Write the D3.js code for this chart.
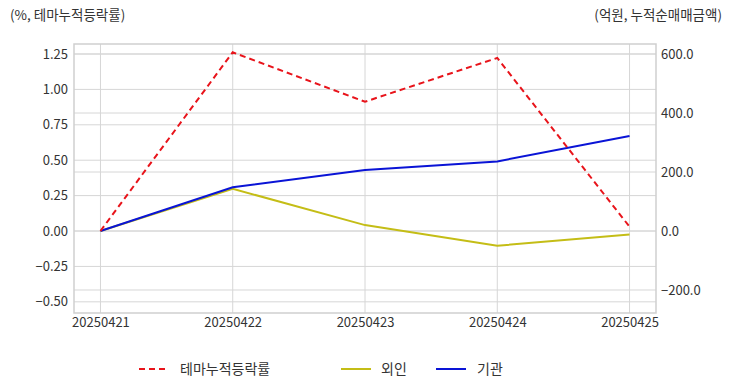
<!DOCTYPE html>
<html><head><meta charset="utf-8">
<script src="https://cdn.jsdelivr.net/npm/d3@7"></script>
<style>
body{margin:0;background:#fff;}
text{font-family:"Noto Sans CJK KR","Noto Sans",sans-serif;}
</style></head>
<body><svg id="c" width="732" height="392"></svg>
<script>
const categories = ["20250421","20250422","20250423","20250424","20250425"];
const themeRate = [0.00, 1.262, 0.913, 1.222, 0.03];
const foreign = [0, 143, 20, -50, -12];
const institution = [0, 148, 207, 236, 322];
const leftTicks = [-0.5,-0.25,0,0.25,0.5,0.75,1.0,1.25];
const rightTicks = [-200,0,200,400,600];
const seriesNames = ["테마누적등락률","외인","기관"];
const colors = ["#e8141b","#c4bd16","#0a14d6"];

const svg = d3.select("#c");
const L=74, R=656, T=44, B=313;
const x = d3.scalePoint().domain(categories).range([L,R]).padding(0.2);
const yL = d3.scaleLinear().domain([-0.579,1.3206]).range([B,T]);
const yR = d3.scaleLinear().domain([-278,634]).range([B,T]);

const g = svg.append("g");
// grid
g.selectAll(".gl").data(leftTicks).join("line")
 .attr("x1",L).attr("x2",R).attr("y1",d=>yL(d)).attr("y2",d=>yL(d))
 .attr("stroke","#d6d6d6").attr("stroke-width",1);
g.selectAll(".gr").data(rightTicks).join("line")
 .attr("x1",L).attr("x2",R).attr("y1",d=>yR(d)).attr("y2",d=>yR(d))
 .attr("stroke","#d6d6d6").attr("stroke-width",1);
g.selectAll(".gx").data(categories).join("line")
 .attr("x1",d=>x(d)).attr("x2",d=>x(d)).attr("y1",T).attr("y2",B)
 .attr("stroke","#d6d6d6").attr("stroke-width",1);
g.append("rect").attr("x",L).attr("y",T).attr("width",R-L).attr("height",B-T)
 .attr("fill","none").attr("stroke","#cfcfcf").attr("stroke-width",1.5);

// axes
const ax = svg.append("g").attr("transform",`translate(${L-4},0)`)
 .call(d3.axisLeft(yL).tickValues(leftTicks).tickFormat(d3.format(".2f")).tickSize(0).tickPadding(2));
const ar = svg.append("g").attr("transform",`translate(${R+3},0)`)
 .call(d3.axisRight(yR).tickValues(rightTicks).tickFormat(d3.format(".1f")).tickSize(0).tickPadding(2));
const ab = svg.append("g").attr("transform",`translate(0,${B+3})`)
 .call(d3.axisBottom(x).tickSize(0).tickPadding(2));
[ax,ar,ab].forEach(a=>{a.select(".domain").remove();
 a.selectAll("text").attr("fill","#333").style("font-size","13px");});

// lines
const lineL = d3.line().x((d,i)=>x(categories[i])).y(d=>yL(d));
const lineR = d3.line().x((d,i)=>x(categories[i])).y(d=>yR(d));
svg.append("path").attr("d",lineR(foreign)).attr("fill","none").attr("stroke",colors[1]).attr("stroke-width",2);
svg.append("path").attr("d",lineR(institution)).attr("fill","none").attr("stroke",colors[2]).attr("stroke-width",2);
svg.append("path").attr("d",lineL(themeRate)).attr("fill","none").attr("stroke",colors[0]).attr("stroke-width",2).attr("stroke-dasharray","6,4");

// axis titles
svg.append("text").attr("x",10).attr("y",20).text("(%, 테마누적등락률)").attr("fill","#333").style("font-size","13.5px");
svg.append("text").attr("x",722).attr("y",20).attr("text-anchor","end").text("(억원, 누적순매매금액)").attr("fill","#333").style("font-size","13.5px");

// legend
const leg = [{x1:139,x2:167,tx:180},{x1:341,x2:371,tx:381},{x1:436,x2:466,tx:477}];
leg.forEach((p,i)=>{
  svg.append("line").attr("x1",p.x1).attr("x2",p.x2).attr("y1",369).attr("y2",369)
   .attr("stroke",colors[i]).attr("stroke-width",2).attr("stroke-dasharray",i===0?"6,4":null);
  svg.append("text").attr("x",p.tx).attr("y",369).attr("dy","0.35em").text(seriesNames[i])
   .attr("fill","#333").style("font-size","14px");
});
</script></body></html>
